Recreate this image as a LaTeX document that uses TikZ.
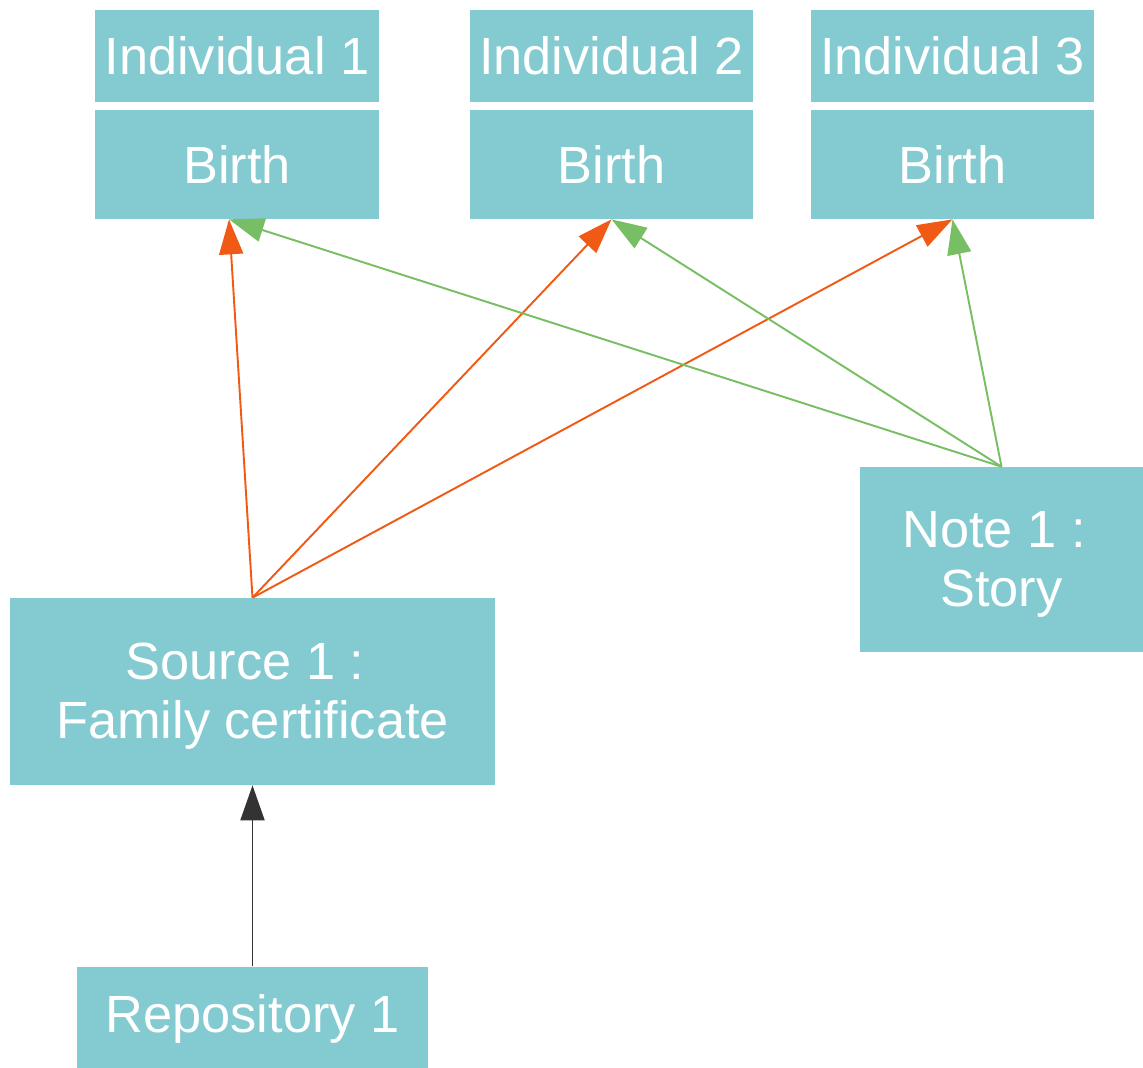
\documentclass[tikz,border=0pt]{standalone}
\usepackage{fontspec}
\setmainfont{Liberation Sans}
\usetikzlibrary{arrows.meta}
\definecolor{boxfill}{HTML}{84CBD1}
\definecolor{srcorange}{HTML}{F05A14}
\definecolor{notegreen}{HTML}{78BE64}
\definecolor{repodark}{HTML}{333333}
\tikzset{
    entity/.style={fill=boxfill, text=white, inner sep=0pt, align=center,
                   font=\fontsize{29.8}{33.5}\selectfont},
    indbox/.style={entity, minimum width=5.68cm, minimum height=1.84cm},
    birthbox/.style={entity, minimum width=5.68cm, minimum height=2.18cm},
    link/.style={line width=1.1pt, -{Triangle[length=0.7cm,width=0.48cm]}}
}
\begin{document}
\begin{tikzpicture}[x=0.02cm, y=-0.02cm]
        \useasboundingbox (0,0) rectangle (1143,1068);
        %individuals
        \node (ind1) at (237,56)[indbox]{Individual 1};
        \node (ind2) at (611.5,56)[indbox]{Individual 2};
        \node (ind3) at (952.5,56)[indbox]{Individual 3};
        %events
        \node (birth1) at (237,164.5)[birthbox]{Birth};
        \node (birth2) at (611.5,164.5)[birthbox]{Birth};
        \node (birth3) at (952.5,164.5)[birthbox]{Birth};
        %note, source, repository
        \node (note) at (1001.5,559.5)[entity, minimum width=5.66cm, minimum height=3.70cm]{\rule{0pt}{30.3pt}Note 1 :\hspace*{0.28em}\\Story\strut};
        \node (source) at (252.5,691.5)[entity, minimum width=9.70cm, minimum height=3.74cm]{\rule{0pt}{30.3pt}Source 1 :\hspace*{0.28em}\\Family certificate\strut};
        \node (repo) at (252.5,1019)[entity, minimum width=7.02cm, minimum height=2.10cm]{Repository 1};

        %source citations
        \draw[link, srcorange](source.north)--([xshift=-0.16cm]birth1.south);
        \draw[link, srcorange](source.north)--(birth2.south);
        \draw[link, srcorange](source.north)--(birth3.south);
        %note links
        \draw[link, notegreen](note.north)--([xshift=-0.16cm]birth1.south);
        \draw[link, notegreen](note.north)--(birth2.south);
        \draw[link, notegreen](note.north)--(birth3.south);
        %repository
        \draw[link, repodark](repo.north)--(source.south);
\end{tikzpicture}
\end{document}
